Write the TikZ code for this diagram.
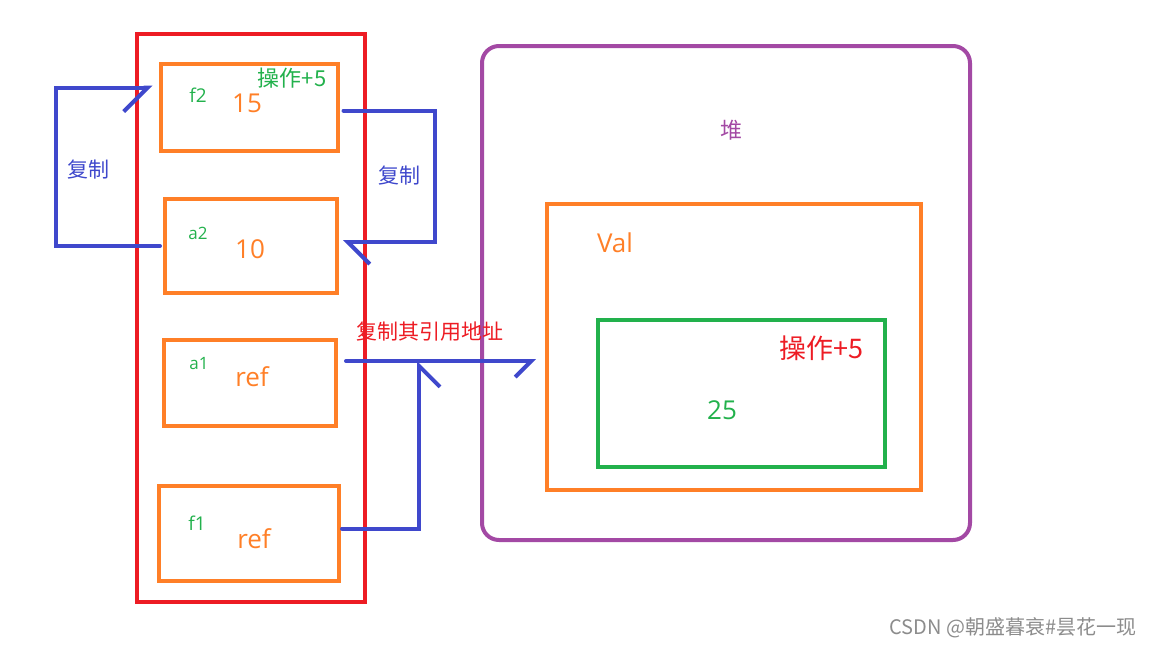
\documentclass[tikz,border=0pt]{standalone}
\usepackage{fontspec}
\setmainfont{Open Sans}
\newfontfamily\cjk{Noto Sans CJK SC}
\usetikzlibrary{arrows.meta}
\definecolor{stackred}{HTML}{ED1C24}
\definecolor{slotorange}{HTML}{FF7F27}
\definecolor{taggreen}{HTML}{22B14C}
\definecolor{linkblue}{HTML}{3F48CC}
\definecolor{heappurple}{HTML}{A349A4}
\newcommand{\fsz}[1]{\fontsize{#1}{#1}\selectfont}

\begin{document}
\begin{tikzpicture}[x=1pt,y=-1pt,
    frame/.style={line width=4pt,inner sep=0pt},
    slot/.style={frame,draw=slotorange},
    tag/.style={text=taggreen,font=\fsz{19}},
    value/.style={text=slotorange,font=\fsz{26}},
    note/.style={text=linkblue,font=\cjk\fsz{21}},
    link/.style={draw=linkblue,line width=4pt,line cap=round,line join=miter}]
  \useasboundingbox (0,0) rectangle (1152,648);
  % stack
  \node[frame,draw=stackred,minimum width=228,minimum height=568] (stack) at (250.5,317.5) {};
  \node[slot,minimum width=177,minimum height=87] (f2) at (249,107.5) {};
  \node[slot,minimum width=172,minimum height=94] (a2) at (251,246) {};
  \node[slot,minimum width=172,minimum height=86] (a1) at (250,383) {};
  \node[slot,minimum width=180,minimum height=95] (f1) at (249,533.5) {};
  \node[tag] (f2name) at (198,95) {f2};
  \node[value] (f2val) at (247,103) {15};
  \node[tag,font=\cjk\fsz{22}] (f2op) at (292,78) {操作+5};
  \node[tag,font=\fsz{17}] (a2name) at (198,233) {a2};
  \node[value] (a2val) at (250,249) {10};
  \node[tag,font=\fsz{17}] (a1name) at (199,364) {a1};
  \node[value] (a1val) at (252,377) {ref};
  \node[tag] (f1name) at (197,523) {f1};
  \node[value] (f1val) at (254,539) {ref};
  % heap
  \node[frame,draw=heappurple,rounded corners=17pt,minimum width=488,minimum height=494] (heap) at (726,293) {};
  \node[text=heappurple,font=\cjk\fsz{22}] (heapname) at (731,130) {堆};
  \node[slot,minimum width=374,minimum height=286] (val) at (734,347) {};
  \node[value] (valname) at (615,243) {Val};
  \node[frame,draw=taggreen,minimum width=287,minimum height=147] (obj) at (741.5,393) {};
  \node[text=stackred,font=\cjk\fsz{27}] (objop) at (821,348) {操作+5};
  \node[tag,font=\fsz{26}] (objval) at (722,410) {25};
  % copies
  \draw[link,-{Straight Barb[harpoon,swap,length=24pt,width=48pt]}]
    ([xshift=-3]a2.west) -- ++(-104,0) |- ([shift={(-6,-20)}]f2.west);
  \node[note] (copyl) at (88,170) {复制};
  \draw[link,-{Straight Barb[harpoon,length=22pt,width=44pt]}]
    ([shift={(4,3)}]f2.east) -- ++(91,0) |- ([shift={(4,-4)}]a2.east);
  \node[note] (copyr) at (399,176) {复制};
  % reference
  \coordinate (hit) at (419,361);
  \draw[link,-{Straight Barb[harpoon,swap,length=16pt,width=32pt]}]
    ([shift={(8,-22)}]a1.east) -- ([shift={(-9,14)}]val.west);
  \draw[link,-{Straight Barb[harpoon,swap,length=21pt,width=42pt]}]
    ([shift={(1,-5)}]f1.east) -| (hit);
  \node[text=stackred,font=\cjk\fsz{21}] (refnote) at (430,332) {复制其引用地址};
  % watermark
  \node[text=black!45,font=\cjk\fsz{20},anchor=east] (mark) at (1140,628) {CSDN @朝盛暮衰\#昙花一现};
\end{tikzpicture}
\end{document}
